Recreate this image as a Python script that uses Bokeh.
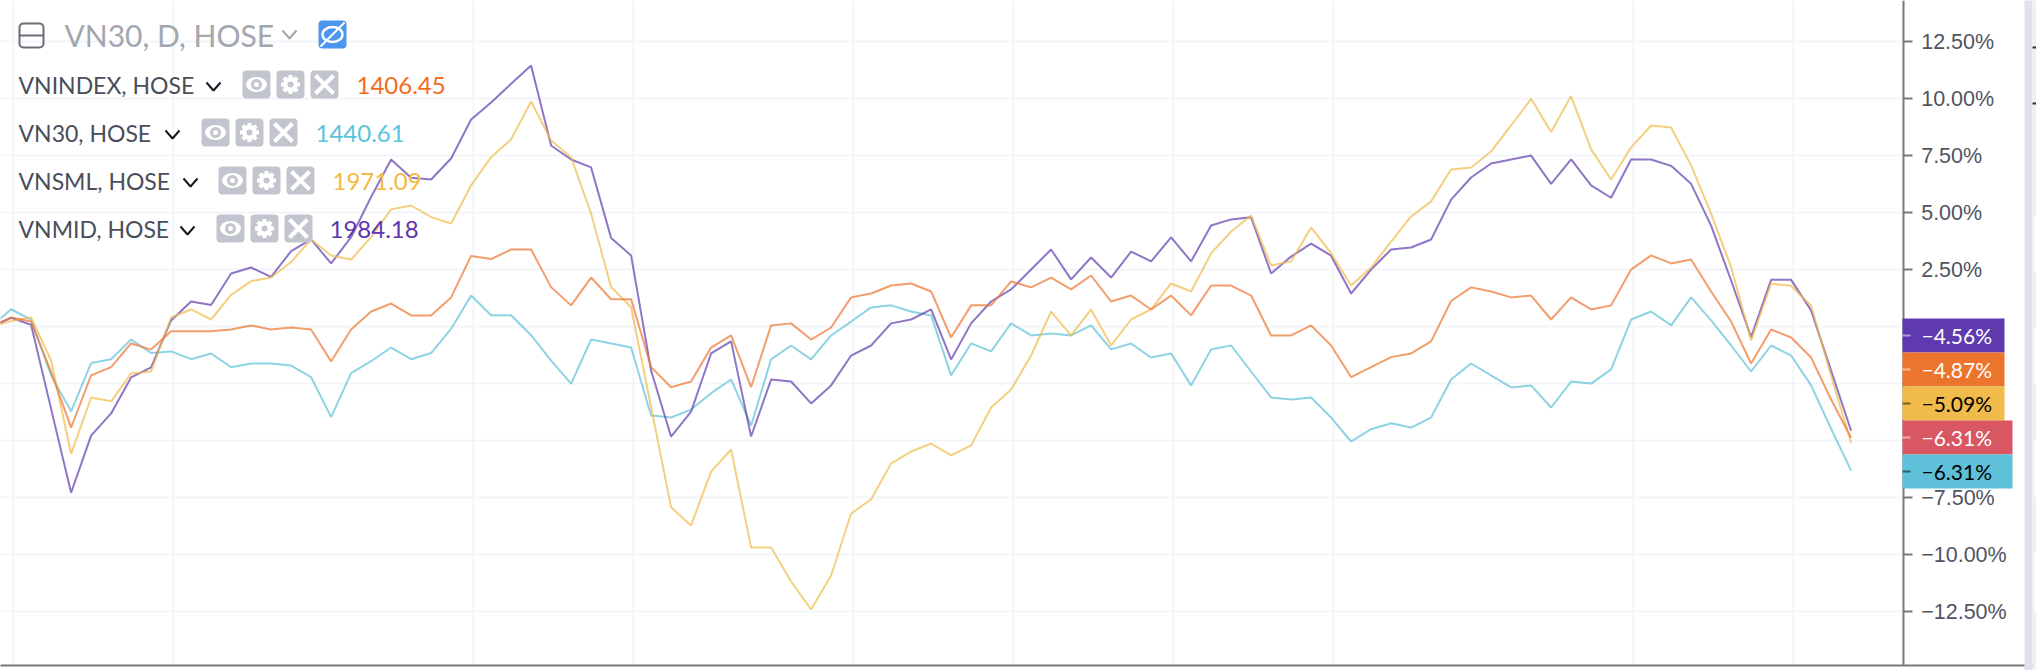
from bokeh.embed import file_html
from bokeh.resources import INLINE
from bokeh.plotting import figure
from bokeh.models import Range1d, LinearAxis, FixedTicker, Grid
from bokeh.core.properties import value
import math

sessions = list(range(-1, 93))
grid_sessions = [0, 8, 23, 31, 42, 50, 58, 66, 81, 89]
grid_ticks = [12.5, 10, 7.5, 5, 2.5, 0, -2.5, -5, -7.5, -10, -12.5]
y_ticks = [12.5, 10, 7.5, 5, 2.5, -7.5, -10, -12.5]
y_labels = ["12.50%", "10.00%", "7.50%", "5.00%", "2.50%", "\u22127.50%", "\u221210.00%", "\u221212.50%"]

vn30 = [0, 0.77, 0.31, -2.13, -3.71, -1.59, -1.42, -0.56, -1.15, -1.08, -1.42, -1.17, -1.77, -1.61, -1.61, -1.70,
        -2.21, -3.96, -2.03, -1.51, -0.91, -1.42, -1.15, -0.09, 1.37, 0.51, 0.51, -0.37, -1.48, -2.49, -0.56, -0.73,
        -0.91, -3.89, -3.98, -3.63, -2.91, -2.31, -4.33, -1.43, -0.82, -1.43, -0.38, 0.23, 0.85, 0.94, 0.67, 0.50,
        -2.13, -0.73, -1.08, 0.15, -0.38, -0.29, -0.38, 0.06, -0.99, -0.73, -1.35, -1.17, -2.57, -0.99, -0.82, -1.96,
        -3.10, -3.19, -3.10, -3.98, -5.03, -4.49, -4.23, -4.42, -3.98, -2.31, -1.61, -2.13, -2.66, -2.57, -3.54, -2.40,
        -2.49, -1.87, 0.32, 0.67, 0.06, 1.29, 0.28, -0.82, -1.96, -0.82, -1.26, -2.57, -4.47, -6.31]
vnindex = [0, 0.41, 0.23, -1.99, -4.42, -2.13, -1.77, -0.73, -1.0, -0.20, -0.20, -0.20, -0.12, 0.06, -0.12, -0.03,
           -0.12, -1.52, -0.12, 0.67, 1.02, 0.50, 0.50, 1.29, 3.11, 2.97, 3.39, 3.39, 1.74, 0.94, 2.16, 1.21,
           1.21, -1.77, -2.65, -2.40, -0.91, -0.38, -2.65, 0.06, 0.15, -0.56, -0.03, 1.29, 1.46, 1.81, 1.90, 1.55,
           -0.47, 0.94, 0.94, 1.99, 1.73, 2.16, 1.64, 2.25, 1.11, 1.37, 0.76, 1.37, 0.50, 1.81, 1.81, 1.37,
           -0.38, -0.38, 0.06, -0.82, -2.21, -1.77, -1.33, -1.17, -0.64, 1.13, 1.73, 1.55, 1.29, 1.37, 0.32, 1.29,
           0.76, 0.94, 2.51, 3.13, 2.78, 2.95, 1.55, 0.23, -1.61, -0.12, -0.47, -1.35, -3.19, -4.87]
vnsml = [0, 0.25, 0.41, -1.48, -5.57, -3.10, -3.27, -2.05, -1.96, 0.41, 0.76, 0.32, 1.40, 2.0, 2.16, 2.84,
         3.83, 3.13, 2.95, 3.93, 5.15, 5.32, 4.81, 4.53, 6.20, 7.44, 8.22, 9.88, 8.17, 7.44, 4.96, 1.74,
         0.86, -3.52, -7.92, -8.71, -6.35, -5.38, -9.68, -9.68, -11.17, -12.40, -10.91, -8.19, -7.57, -5.99, -5.47, -5.12,
         -5.64, -5.20, -3.54, -2.75, -1.26, 0.67, -0.38, 0.76, -0.82, 0.32, 0.76, 1.90, 1.55, 3.22, 4.18, 4.88,
         2.69, 2.87, 4.36, 3.22, 1.81, 2.60, 3.74, 4.84, 5.50, 6.90, 6.99, 7.69, 8.83, 10.0, 8.54, 10.12,
         7.78, 6.46, 7.87, 8.83, 8.74, 7.08, 4.96, 2.62, -0.60, 1.89, 1.80, 0.92, -2.15, -5.09]
vnmid = [0, 0.39, 0.09, -3.60, -7.28, -4.77, -3.80, -2.22, -1.78, 0.28, 1.11, 0.96, 2.34, 2.60, 2.19, 3.32,
         3.83, 2.78, 3.93, 5.69, 7.34, 6.54, 6.46, 7.38, 9.09, 9.84, 10.66, 11.46, 7.95, 7.34, 6.99, 3.90,
         3.13, -1.92, -4.82, -3.72, -1.17, -0.64, -4.81, -2.31, -2.40, -3.36, -2.57, -1.26, -0.82, 0.15, 0.32, 0.76,
         -1.43, 0.15, 1.11, 1.64, 2.51, 3.39, 2.08, 3.04, 2.16, 3.30, 2.87, 3.92, 2.87, 4.44, 4.71, 4.80,
         2.34, 3.08, 3.65, 3.12, 1.46, 2.51, 3.39, 3.48, 3.83, 5.58, 6.55, 7.16, 7.34, 7.51, 6.27, 7.34,
         6.20, 5.66, 7.34, 7.34, 7.06, 6.27, 4.44, 2.03, -0.45, 2.06, 2.06, 0.72, -1.92, -4.56]

legend_names = ["VNINDEX, HOSE", "VN30, HOSE", "VNSML, HOSE", "VNMID, HOSE"]
legend_values = ["1406.45", "1440.61", "1971.09", "1984.18"]
legend_colors = ["#f26b21", "#5cc3dc", "#f5b942", "#5e35b1"]
legend_y = [85, 133, 181, 229]
legend_chev = [213, 172, 190, 187]
legend_btn = [242, 201, 218, 216]
legend_val = [356, 315, 332, 329]

end_texts = ["\u22124.56%", "\u22124.87%", "\u22125.09%", "\u22126.31%", "\u22126.31%"]
end_fills = ["#5e3aae", "#ec752e", "#f0bb4a", "#d95763", "#5ec1d9"]
end_inks = ["#ffffff", "#ffffff", "#000000", "#ffffff", "#000000"]
end_right = [2004, 2004, 2004, 2012, 2012]
end_top = [318, 352, 386, 420, 454]

W, H = 2036, 670
FRAME_B = 665
SCALE_X = 1902.7

def px_to_session(x):
    return (x - 10.6) / 20

def px_to_pct(y):
    return (326.3 - y) / 22.8

p = figure(width=W, height=H, output_backend="svg", toolbar_location=None,
           x_range=Range1d(px_to_session(0), px_to_session(W)),
           y_range=Range1d(px_to_pct(FRAME_B), px_to_pct(0)),
           x_axis_location="below", y_axis_location=None,
           min_border_left=0, min_border_top=0, min_border_bottom=H - FRAME_B, min_border_right=0)
p.outline_line_color = None
p.background_fill_color = "#ffffff"
p.border_fill_color = "#ffffff"
p.extra_x_ranges["ref"] = Range1d(0, W)
p.extra_y_ranges["ref"] = Range1d(FRAME_B, 0)
ref = dict(x_range_name="ref", y_range_name="ref")

xa = p.xaxis[0]
xa.ticker = FixedTicker(ticks=[])
xa.major_tick_out = 0
xa.major_tick_in = 0
xa.minor_tick_out = 0
xa.minor_tick_in = 0
xa.axis_line_color = "#787878"
xa.axis_line_width = 2

ya = LinearAxis(ticker=FixedTicker(ticks=y_ticks),
                major_label_overrides=dict(zip(y_ticks, y_labels)),
                fixed_location=px_to_session(SCALE_X))
ya.axis_line_color = "#787878"
ya.axis_line_width = 2
ya.major_tick_line_color = "#787878"
ya.major_tick_line_width = 2
ya.major_tick_out = 9
ya.major_tick_in = 0
ya.minor_tick_out = 0
ya.minor_tick_in = 0
ya.major_label_standoff = 9
ya.major_label_text_font = "Liberation Sans"
ya.major_label_text_font_size = "21.5px"
ya.major_label_text_color = "#4f5461"
p.add_layout(ya, "right")

p.xgrid[0].grid_line_color = "#f1f5f9"
p.xgrid[0].grid_line_width = 2
p.xgrid[0].ticker = FixedTicker(ticks=[g + 0.1 for g in grid_sessions])
p.add_layout(Grid(dimension=1, ticker=FixedTicker(ticks=grid_ticks), grid_line_color="#f1f5f9", grid_line_width=2))

# price-scale background hides the grid right of the axis
p.quad(left=[SCALE_X], right=[W], top=[0], bottom=[FRAME_B], fill_color="#ffffff", line_color=None, **ref)

for series, col in [(vn30, "#5ec1d9"), (vnmid, "#5e3aae"), (vnsml, "#f0bb4a"), (vnindex, "#ec752e")]:
    p.line(sessions, series, line_color=col, line_alpha=0.7, line_width=2)

FONT = value("Lato")

def chevron(x, y, col, w=7, h=4):
    p.line([x - w, x, x + w], [y - h, y + h, y - h], line_color=col, line_width=2, **ref)

def buttons(x0, yc):
    top, bot = yc - 14, yc + 14
    for i in range(3):
        l = x0 + 34 * i
        r = l + 28
        p.quad(left=[l], right=[r], top=[top], bottom=[bot], fill_color="#c2c5cd", line_color=None,
               border_radius=4, **ref)
        cx = (l + r) / 2
        if i == 0:
            p.ellipse([cx], [yc], width=21, height=15, fill_color="#ffffff", line_color=None, **ref)
            p.scatter([cx], [yc], size=11, fill_color="#c2c5cd", line_color=None, **ref)
            p.scatter([cx], [yc], size=5, fill_color="#ffffff", line_color=None, **ref)
        elif i == 1:
            for a in range(8):
                t = a * math.pi / 4
                p.line([cx, cx + 9.5 * math.cos(t)], [yc, yc + 9.5 * math.sin(t)], line_color="#ffffff", line_width=4, **ref)
            p.scatter([cx], [yc], size=15, fill_color="#ffffff", line_color=None, **ref)
            p.scatter([cx], [yc], size=6, fill_color="#c2c5cd", line_color=None, **ref)
        else:
            p.line([cx - 9, cx + 9], [yc - 9, yc + 9], line_color="#ffffff", line_width=4, **ref)
            p.line([cx - 9, cx + 9], [yc + 9, yc - 9], line_color="#ffffff", line_width=4, **ref)

p.quad(left=[19], right=[43], top=[23], bottom=[47], fill_color="#ffffff", fill_alpha=0, line_color="#6a6d78",
       line_width=2, border_radius=4, **ref)
p.line([19, 43], [35, 35], line_color="#6a6d78", line_width=2, **ref)
p.text([64], [34], text=["VN30, D, HOSE"], text_font=FONT, text_font_size="30px", text_color="#a3a6af",
       text_baseline="middle", **ref)
chevron(289, 34, "#a3a6af", 7, 4)
p.quad(left=[318], right=[346], top=[20], bottom=[48], fill_color="#4c96ee", line_color=None, border_radius=4, **ref)
p.ellipse([332], [34], width=20, height=15, fill_color=None, line_color="#ffffff", line_width=2.5, **ref)
p.line([320, 344], [46, 22], line_color="#ffffff", line_width=2, **ref)

for name, val, col, yc, cx, bx, vx in zip(legend_names, legend_values, legend_colors, legend_y, legend_chev, legend_btn, legend_val):
    p.text([18], [yc - 1], text=[name], text_font=FONT, text_font_size="23px", text_color="#4a4e5a",
           text_baseline="middle", **ref)
    chevron(cx, yc + 1, "#131722")
    buttons(bx, yc - 1)
    p.text([vx], [yc], text=[val], text_font=FONT, text_font_size="24px", text_color=col,
           text_baseline="middle", **ref)

# last-value boxes sit over the axis
for txt, fill, ink, r, t in zip(end_texts, end_fills, end_inks, end_right, end_top):
    p.quad(left=[1902], right=[r], top=[t], bottom=[t + 34], fill_color=fill, line_color=None, level="overlay", **ref)
    p.quad(left=[1902], right=[1910], top=[t + 16], bottom=[t + 18], fill_color=ink, fill_alpha=0.5, line_color=None,
           level="overlay", **ref)
    p.text([1921], [t + 17], text=[txt], text_font=FONT, text_font_size="21px", text_color=ink,
           text_baseline="middle", level="overlay", **ref)

# strip at the right edge, and the sliver of the next panel with its ticks
p.quad(left=[2024], right=[2032], top=[0], bottom=[H], fill_color="#dfe2ec", line_color=None, level="overlay", **ref)
p.quad(left=[2032], right=[W], top=[0], bottom=[H], fill_color="#eff0f4", line_color=None, level="overlay", **ref)
p.quad(left=[2034] * 4, right=[W] * 4, top=[216, 327, 440, 551], bottom=[272, 383, 497, 611],
       fill_color="#ffffff", line_color=None, level="overlay", **ref)
p.quad(left=[2032] * 2, right=[W] * 2, top=[46, 102], bottom=[48, 104], fill_color="#2a2e39", line_color=None,
       level="overlay", **ref)

open("out.html", "w").write(file_html(p, INLINE))
